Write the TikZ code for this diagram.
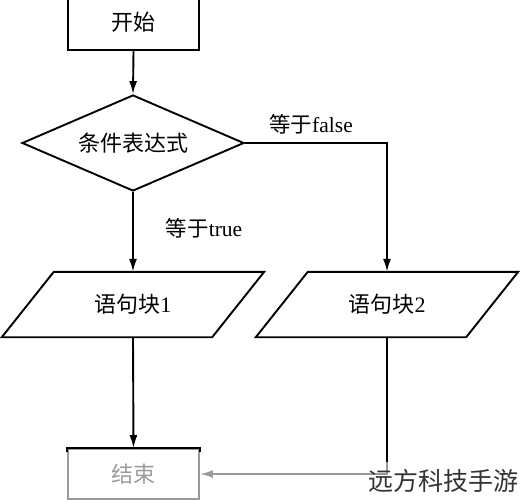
\documentclass[tikz,border=0pt]{standalone}
\usepackage{fontspec}
\setmainfont{Liberation Serif}
\newfontfamily\cjk{Noto Sans CJK SC}
\usetikzlibrary{shapes.geometric,arrows.meta}
\definecolor{endgray}{HTML}{9A9A9A}
\tikzset{
  x=1pt,y=-1pt,
  line/.style={line width=1.9pt,draw=black},
  arr/.style={line,-{Latex[length=13pt,width=8pt]}},
  garr/.style={line width=1.9pt,draw=endgray,-{Latex[length=13pt,width=8pt,fill=endgray]}},
  boxnode/.style={draw,line width=1.9pt,minimum width=131pt,minimum height=56pt,inner sep=0pt,font=\fontsize{22}{26}\selectfont},
  dianode/.style={draw,line width=1.9pt,diamond,minimum width=222pt,minimum height=96pt,aspect=2.31,inner sep=0pt,font=\fontsize{22}{26}\selectfont},
  paranode/.style={minimum width=210pt,minimum height=65pt,inner sep=0pt,font=\fontsize{22}{26}\selectfont},
  lbl/.style={inner sep=0pt,font=\fontsize{21.5}{26}\selectfont},
}
\begin{document}
\begin{tikzpicture}
\useasboundingbox (0,0) rectangle (520,500);
% start
\node[boxnode] (start) at (133.5,22) {\cjk 开始};
% condition
\node[dianode] (cond) at (133,143) {\cjk 条件表达式};
% blocks
\node[paranode] (p1) at (133,304.5) {{\cjk 语句块}1};
\draw[line] ([xshift=26pt]p1.north west) -- ([xshift=26pt]p1.north east) -- ([xshift=-26pt]p1.south east) -- ([xshift=-26pt]p1.south west) -- cycle;
\node[paranode] (p2) at (387,304.5) {{\cjk 语句块}2};
\draw[line] ([xshift=26pt]p2.north west) -- ([xshift=26pt]p2.north east) -- ([xshift=-26pt]p2.south east) -- ([xshift=-26pt]p2.south west) -- cycle;
% end
\node[boxnode,draw=endgray,text=endgray,minimum height=50pt] (end) at (133.5,474) {\cjk 结束};
\draw[line] ([yshift=-4pt]end.north west) -- (end.north west) -- (end.north east) -- ([yshift=-4pt]end.north east);
% labels
\node[lbl] (ltrue) at (204,228) {{\cjk 等于}true};
\node[lbl] (lfalse) at (311,124) {{\cjk 等于}false};
% connectors
\draw[arr] (start.south) -- (cond.north);
\draw[arr] (cond.south) -- (p1.north);
\draw[arr] (cond.east) -| (p2.north);
\draw[arr] (p1.south) -- (end.north);
\coordinate (g) at (387,462);
\draw[line] (p2.south) -- (g);
\draw[garr] (g) |- (end.east);
% watermark
\node[inner sep=0pt,text=black!80,font=\cjk\fontsize{25}{30}\selectfont] (wm) at (443,481) {远方科技手游};
\end{tikzpicture}
\end{document}
